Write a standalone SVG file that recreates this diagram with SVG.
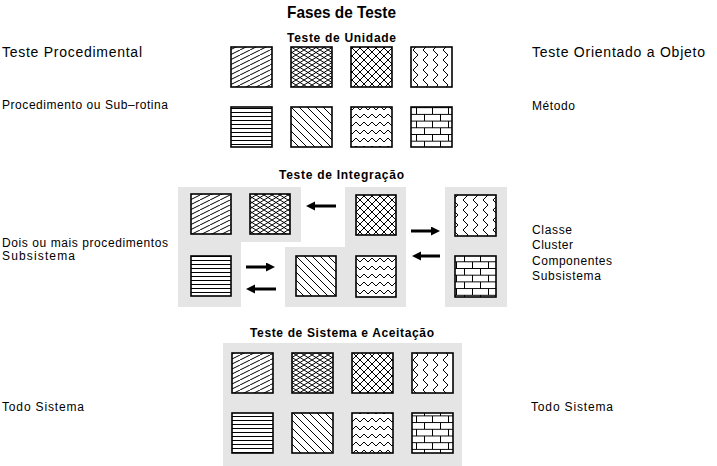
<svg xmlns="http://www.w3.org/2000/svg" width="717" height="466" viewBox="0 0 717 466">
<style>
  .lbl{font-family:"Liberation Sans",Arial,sans-serif;fill:#000}
  .big{font-size:14px}
  .sm{font-size:12px}
  .ttl{font-size:12px;font-weight:bold}
  .main{font-size:17px;font-weight:bold}
  .panel{fill:#e5e5e5;stroke:none}
  .sq{stroke:#000;stroke-width:1.6}
  .arr{stroke:#000;stroke-width:3;fill:none}
  .pl{stroke:#000;stroke-width:1;fill:none}
</style>
<defs>
  <pattern id="pDiag" patternUnits="userSpaceOnUse" width="10" height="5">
    <rect width="10" height="5" fill="#fff"/>
    <path class="pl" d="M-1,5.5 L11,-0.5"/>
  </pattern>
  <pattern id="pDense" patternUnits="userSpaceOnUse" width="8" height="5">
    <rect width="8" height="5" fill="#fff"/>
    <path class="pl" d="M-0.8,5.5 L8.8,-0.5 M-0.8,-0.5 L8.8,5.5"/>
  </pattern>
  <pattern id="pCross" patternUnits="userSpaceOnUse" width="8" height="8">
    <rect width="8" height="8" fill="#fff"/>
    <path class="pl" d="M-1,-1 L9,9 M-1,9 L9,-1"/>
  </pattern>
  <pattern id="pVzig" patternUnits="userSpaceOnUse" width="10" height="10">
    <rect width="10" height="10" fill="#fff"/>
    <path class="pl" d="M3,0 L8,5 L3,10"/>
  </pattern>
  <pattern id="pHoriz" patternUnits="userSpaceOnUse" width="4" height="4">
    <rect width="4" height="4" fill="#fff"/>
    <path class="pl" d="M0,0.5 H4"/>
  </pattern>
  <pattern id="pDiag45" patternUnits="userSpaceOnUse" width="8" height="8">
    <rect width="8" height="8" fill="#fff"/>
    <path class="pl" d="M-1,-1 L9,9"/>
  </pattern>
  <pattern id="pHzig" patternUnits="userSpaceOnUse" width="8" height="8">
    <rect width="8" height="8" fill="#fff"/>
    <path class="pl" d="M0,6 L4,2 L8,6"/>
  </pattern>
  <pattern id="pBrick" patternUnits="userSpaceOnUse" width="16" height="13.4">
    <rect width="16" height="13.4" fill="#fff"/>
    <path class="pl" d="M0,0.5 H16 M0,7.2 H16 M0.5,0.5 V7.2 M8.5,7.2 V13.4"/>
  </pattern>
  <marker id="head" markerUnits="userSpaceOnUse" markerWidth="10" markerHeight="10" refX="0" refY="4.5" orient="auto">
    <path d="M0,0 L9,4.5 L0,9 Z" fill="#000"/>
  </marker>
</defs>

<g id="title"><text class="lbl main" x="287" y="18" textLength="109" lengthAdjust="spacingAndGlyphs">Fases de Teste</text></g>

<!-- Unidade -->
<g id="unidade">
  <text class="lbl ttl" x="287" y="42" textLength="109" lengthAdjust="spacing">Teste de Unidade</text>
  <rect class="sq" x="231" y="47" width="41" height="40" fill="url(#pDiag)"/>
  <rect class="sq" x="291" y="47" width="41" height="40" fill="url(#pDense)"/>
  <rect class="sq" x="351" y="47" width="41" height="40" fill="url(#pCross)"/>
  <rect class="sq" x="411" y="47" width="41" height="40" fill="url(#pVzig)"/>
  <rect class="sq" x="231" y="107" width="41" height="40" fill="url(#pHoriz)"/>
  <rect class="sq" x="291" y="107" width="41" height="40" fill="url(#pDiag45)"/>
  <rect class="sq" x="351" y="107" width="41" height="40" fill="url(#pHzig)"/>
  <rect class="sq" x="411" y="107" width="41" height="40" fill="url(#pBrick)"/>
</g>
<g id="lbl-proc"><text class="lbl big" x="2" y="57" textLength="140" lengthAdjust="spacing">Teste Procedimental</text></g>
<g id="lbl-oo"><text class="lbl big" x="532" y="57" textLength="173" lengthAdjust="spacing">Teste Orientado a Objeto</text></g>
<g id="lbl-sub"><text class="lbl sm" x="2" y="109" textLength="166" lengthAdjust="spacing">Procedimento ou Sub–rotina</text></g>
<g id="lbl-met"><text class="lbl sm" x="532" y="110" textLength="43" lengthAdjust="spacing">Método</text></g>

<!-- Integração -->
<g id="integracao">
  <text class="lbl ttl" x="279" y="179" textLength="125" lengthAdjust="spacing">Teste de Integração</text>
  <path class="panel" d="M178,187 H301 V242 H241 V307 H178 Z"/>
  <path class="panel" d="M345,187 H406 V307 H285 V247 H345 Z"/>
  <rect class="panel" x="445" y="187" width="62" height="120"/>
  <rect class="sq" x="191" y="194" width="40" height="40" fill="url(#pDiag)"/>
  <rect class="sq" x="250" y="194" width="40" height="40" fill="url(#pDense)"/>
  <rect class="sq" x="356" y="195" width="40" height="40" fill="url(#pCross)"/>
  <rect class="sq" x="455" y="195" width="41" height="41" fill="url(#pVzig)"/>
  <rect class="sq" x="191" y="256" width="40" height="40" fill="url(#pHoriz)"/>
  <rect class="sq" x="296" y="256" width="40" height="40" fill="url(#pDiag45)"/>
  <rect class="sq" x="356" y="256" width="40" height="41" fill="url(#pHzig)"/>
  <rect class="sq" x="455" y="256" width="41" height="41" fill="url(#pBrick)"/>
</g>
<g id="lbl-dois">
  <text class="lbl sm" x="2" y="247" textLength="166" lengthAdjust="spacing">Dois ou mais procedimentos</text>
  <text class="lbl sm" x="2" y="260" textLength="73" lengthAdjust="spacing">Subsistema</text>
</g>
<g id="lbl-classe">
  <text class="lbl sm" x="532" y="234" textLength="40" lengthAdjust="spacing">Classe</text>
  <text class="lbl sm" x="532" y="249" textLength="41" lengthAdjust="spacing">Cluster</text>
  <text class="lbl sm" x="532" y="265" textLength="80" lengthAdjust="spacing">Componentes</text>
  <text class="lbl sm" x="532" y="280" textLength="69" lengthAdjust="spacing">Subsistema</text>
</g>

<g id="connectors">
  <path class="arr" d="M336,206 H315" marker-end="url(#head)"/>
  <path class="arr" d="M246,267 H266" marker-end="url(#head)"/>
  <path class="arr" d="M276,289 H255" marker-end="url(#head)"/>
  <path class="arr" d="M411,231 H431" marker-end="url(#head)"/>
  <path class="arr" d="M440,256 H421" marker-end="url(#head)"/>
</g>

<!-- Sistema -->
<g id="sistema">
  <text class="lbl ttl" x="250" y="337" textLength="184" lengthAdjust="spacing">Teste de Sistema e Aceitação</text>
  <rect class="panel" x="223" y="343" width="239" height="123"/>
  <rect class="sq" x="232" y="353" width="41" height="40" fill="url(#pDiag)"/>
  <rect class="sq" x="292" y="353" width="41" height="40" fill="url(#pDense)"/>
  <rect class="sq" x="352" y="353" width="41" height="40" fill="url(#pCross)"/>
  <rect class="sq" x="412" y="353" width="41" height="40" fill="url(#pVzig)"/>
  <rect class="sq" x="232" y="413" width="41" height="40" fill="url(#pHoriz)"/>
  <rect class="sq" x="292" y="413" width="41" height="40" fill="url(#pDiag45)"/>
  <rect class="sq" x="352" y="413" width="41" height="40" fill="url(#pHzig)"/>
  <rect class="sq" x="412" y="413" width="41" height="40" fill="url(#pBrick)"/>
</g>
<g id="lbl-todo-l"><text class="lbl sm" x="2" y="411" textLength="82" lengthAdjust="spacing">Todo Sistema</text></g>
<g id="lbl-todo-r"><text class="lbl sm" x="531" y="411" textLength="82" lengthAdjust="spacing">Todo Sistema</text></g>
</svg>
